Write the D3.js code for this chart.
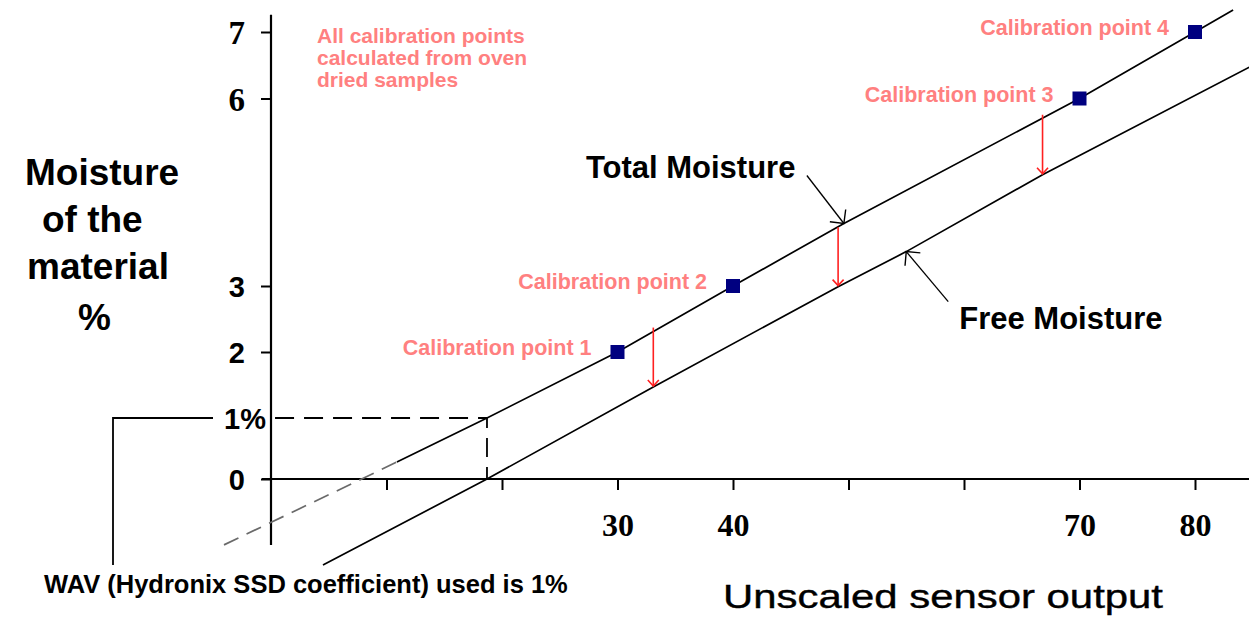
<!DOCTYPE html>
<html>
<head>
<meta charset="utf-8">
<script src="https://cdn.jsdelivr.net/npm/d3@7"></script>
<style>
  body { margin: 0; background: #fff; }
  svg { display: block; }
</style>
</head>
<body>
<div id="canvas"></div>
<script>
// data

const xTickValues = [10, 20, 30, 40, 50, 60, 70, 80];
const xTickLabels = ["", "", "30", "40", "", "", "70", "80"];
const yTickValues = [0, 1, 2, 3, 6, 7];
const yTickLabels = ["0", "1%", "2", "3", "6", "7"];

const calibX = [30, 40, 70, 80];
const calibY = [2, 3, 6, 7];
const calibNames = ["Calibration point 1", "Calibration point 2", "Calibration point 3", "Calibration point 4"];

// total moisture line, dashed below the WAV offset, solid above
const totalDashed = [
  { x: -4.07, y: -1.08 }, { x: 7.85, y: 0 }, { x: 10.9, y: 0.28 }
];
const totalSolid = [
  { x: 10.9, y: 0.28 }, { x: 18.7, y: 1 }, { x: 30, y: 2 }, { x: 40, y: 3 },
  { x: 49.6, y: 4 }, { x: 70, y: 6 }, { x: 80, y: 7 }, { x: 83.3, y: 7.33 }
];
const freeMoisture = [
  { x: 4.5, y: -1.41 }, { x: 18.7, y: 0 }, { x: 33.1, y: 1.47 }, { x: 49.1, y: 2.99 },
  { x: 55.0, y: 3.55 }, { x: 66.8, y: 4.78 }, { x: 84.7, y: 6.47 }
];

// red arrows from total to free moisture
const gapX = [33.1, 49.1, 66.8];
const gapTop = [2.37, 3.94, 5.74];
const gapBottom = [1.47, 2.99, 4.78];

const wavValue = 1;
const wavX = 18.7;

const titleLines = ["Moisture", "of the", "material", "%"];
const noteLines = ["All calibration points", "calculated from oven", "dried samples"];

// constants

const width = 1249;
const height = 617;
const sans = '"Liberation Sans", Arial, sans-serif';
const serif = '"Liberation Serif", "Times New Roman", serif';

const x = d3.scaleLinear()
    .domain([0, 80])
    .range([271, 1195]);
// the drawing is not evenly spaced, so a piecewise scale follows its ticks
const y = d3.scaleLinear()
    .domain([0, 1, 2, 3, 6, 7])
    .range([479, 418, 352, 286, 98.5, 32]);

const svg = d3.select('#canvas')
    .append('svg').attr('width', width).attr('height', height);

const defs = svg.append('defs');
defs.append('marker')
    .attr('id', 'redHead')
    .attr('markerUnits', 'userSpaceOnUse')
    .attr('viewBox', '-8 -7 10 14')
    .attr('refX', 0).attr('refY', 0)
    .attr('markerWidth', 10).attr('markerHeight', 14)
    .attr('orient', 'auto')
    .append('path')
    .attr('d', 'M-6,-5.5L0,0L-6,5.5')
    .attr('fill', 'none').attr('stroke', '#ff2020').attr('stroke-width', 1.6);
defs.append('marker')
    .attr('id', 'blackHead')
    .attr('markerUnits', 'userSpaceOnUse')
    .attr('viewBox', '-12 -12 14 24')
    .attr('refX', 0).attr('refY', 0)
    .attr('markerWidth', 14).attr('markerHeight', 24)
    .attr('orient', 'auto')
    .append('path')
    .attr('d', 'M-10,-10L0,0L-10,10')
    .attr('fill', 'none').attr('stroke', '#000').attr('stroke-width', 1.4);

// axes
const xAxis = d3.axisBottom(x)
    .tickValues(xTickValues)
    .tickFormat((d, i) => xTickLabels[i])
    .tickSize(11);
const yAxis = d3.axisLeft(y)
    .tickValues(yTickValues)
    .tickFormat((d, i) => yTickLabels[i])
    .tickSize(10)
    .tickPadding(16);

svg.append('g')
    .attr('class', 'x-axis')
    .attr('transform', `translate(0,${y(0)})`)
    .call(xAxis)
    .call(g => g.select('.domain').remove())
    .call(g => g.selectAll('.tick line').attr('stroke', '#000').attr('stroke-width', 2))
    .call(g => g.selectAll('.tick text')
        .attr('y', 57).attr('dy', 0)
        .attr('fill', '#000')
        .style('font-family', serif).style('font-weight', 'bold').style('font-size', '32px'));

svg.append('g')
    .attr('class', 'y-axis')
    .attr('transform', `translate(${x(0)},0)`)
    .call(yAxis)
    .call(g => g.select('.domain').remove())
    .call(g => g.selectAll('.tick line')
        .attr('stroke', '#000').attr('stroke-width', 2)
        .attr('display', d => d === wavValue ? 'none' : null))
    .call(g => g.selectAll('.tick text')
        .attr('dy', '0.36em')
        .attr('x', d => d === wavValue ? -5 : -26)
        .attr('fill', '#000')
        .style('font-weight', 'bold')
        .style('font-family', d => d >= 6 ? serif : sans)
        .style('font-size', d => d >= 6 ? '33px' : '29px'));

// axis lines run past the tick range
svg.append('line')
    .attr('x1', x(-0.78)).attr('x2', x(84.7))
    .attr('y1', y(0)).attr('y2', y(0))
    .attr('stroke', '#000').attr('stroke-width', 2.2);
svg.append('line')
    .attr('x1', x(0)).attr('x2', x(0))
    .attr('y1', y(7.26)).attr('y2', y(-1.08))
    .attr('stroke', '#000').attr('stroke-width', 2.2);

// WAV guide lines
svg.append('path')
    .attr('d', d3.line()([[x(0.35), y(wavValue)], [x(wavX), y(wavValue)], [x(wavX), y(0)]]))
    .attr('fill', 'none').attr('stroke', '#000').attr('stroke-width', 1.8)
    .attr('stroke-dasharray', '19,10');

const line = d3.line().x(d => x(d.x)).y(d => y(d.y));

svg.append('path')
    .datum(totalDashed)
    .attr('d', line)
    .attr('fill', 'none').attr('stroke', '#6a6a6a').attr('stroke-width', 1.7)
    .attr('stroke-dasharray', '16,9');
svg.append('path')
    .datum(totalSolid)
    .attr('d', line)
    .attr('fill', 'none').attr('stroke', '#000').attr('stroke-width', 1.7);
svg.append('path')
    .datum(freeMoisture)
    .attr('d', line)
    .attr('fill', 'none').attr('stroke', '#000').attr('stroke-width', 1.7);

// red gap arrows
svg.selectAll('.gap')
    .data(gapX)
    .join('line')
    .attr('class', 'gap')
    .attr('x1', d => x(d)).attr('x2', d => x(d))
    .attr('y1', (d, i) => y(gapTop[i]))
    .attr('y2', (d, i) => y(gapBottom[i]) - 1)
    .attr('stroke', '#ff2020').attr('stroke-width', 1.6)
    .attr('marker-end', 'url(#redHead)');

// calibration points
svg.selectAll('.calib')
    .data(calibX)
    .join('rect')
    .attr('class', 'calib')
    .attr('x', d => x(d) - 7)
    .attr('y', (d, i) => y(calibY[i]) - 7)
    .attr('width', 14).attr('height', 14)
    .attr('fill', '#000080');

svg.selectAll('.calib-label')
    .data(calibNames)
    .join('text')
    .attr('class', 'calib-label')
    .attr('x', (d, i) => x(calibX[i]) - 26)
    .attr('y', (d, i) => y(calibY[i]) + 3)
    .attr('text-anchor', 'end')
    .style('font-family', sans).style('font-weight', 'bold').style('font-size', '21.5px')
    .attr('fill', '#ff8080')
    .text(d => d);

// callouts
svg.append('line')
    .attr('x1', x(49.6) - 37).attr('y1', y(4) - 48)
    .attr('x2', x(49.6)).attr('y2', y(4))
    .attr('stroke', '#000').attr('stroke-width', 1.3)
    .attr('marker-end', 'url(#blackHead)');
svg.append('text')
    .attr('x', x(49.6) - 258).attr('y', y(4) - 46)
    .style('font-family', sans).style('font-weight', 'bold').style('font-size', '31px')
    .text('Total Moisture');

svg.append('line')
    .attr('x1', x(55) + 42).attr('y1', y(3.55) + 50)
    .attr('x2', x(55)).attr('y2', y(3.55))
    .attr('stroke', '#000').attr('stroke-width', 1.3)
    .attr('marker-end', 'url(#blackHead)');
svg.append('text')
    .attr('x', x(55) + 53).attr('y', y(3.55) + 77)
    .style('font-family', sans).style('font-weight', 'bold').style('font-size', '31px')
    .text('Free Moisture');

// WAV note with its bracket
svg.append('path')
    .attr('d', d3.line()([[113, 565], [113, y(wavValue)], [213, y(wavValue)]]))
    .attr('fill', 'none').attr('stroke', '#000').attr('stroke-width', 1.8);
svg.append('text')
    .attr('x', 44).attr('y', 593)
    .style('font-family', sans).style('font-weight', 'bold').style('font-size', '25.5px')
    .text('WAV (Hydronix SSD coefficient) used is 1%');

// y title
const titleX = [25, 42, 27, 78];
const titleY = [185, 232, 279, 330];
svg.append('g').selectAll('text')
    .data(titleLines)
    .join('text')
    .attr('x', (d, i) => titleX[i])
    .attr('y', (d, i) => titleY[i])
    .style('font-family', sans).style('font-weight', 'bold').style('font-size', '37px')
    .text(d => d);

// x title
svg.append('text')
    .attr('x', 723).attr('y', 608)
    .attr('textLength', 440).attr('lengthAdjust', 'spacingAndGlyphs')
    .style('font-family', sans).style('font-size', '34px')
    .style('stroke', '#000').style('stroke-width', 0.4)
    .text('Unscaled sensor output');

// note
svg.append('g').selectAll('text')
    .data(noteLines)
    .join('text')
    .attr('x', 317)
    .attr('y', (d, i) => 43 + i * 22)
    .style('font-family', sans).style('font-weight', 'bold').style('font-size', '21px')
    .attr('fill', '#ff8080')
    .text(d => d);
</script>
</body>
</html>
